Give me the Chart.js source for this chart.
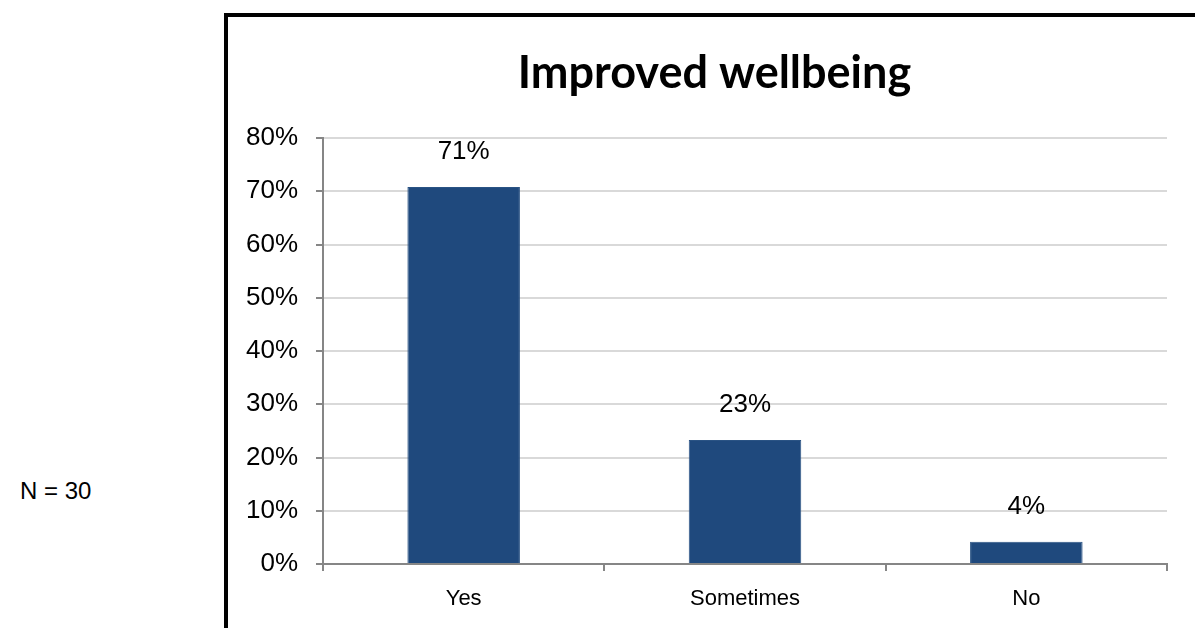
<!DOCTYPE html>
<html>
<head>
<meta charset="utf-8">
<script src="https://cdn.jsdelivr.net/npm/chart.js@4"></script>
<style>
  html, body { margin: 0; padding: 0; background: #fff; overflow: hidden; }
  #wrap { position: relative; width: 1195px; height: 628px; }
  #frame {
    position: absolute; left: 224px; top: 13px; width: 1100px; height: 700px;
    border: 4px solid #000; box-sizing: border-box;
  }
  #note {
    position: absolute; left: 20px; top: 477px;
    font: 24px "Liberation Sans", Arial, sans-serif; color: #000;
  }
  #chart { position: absolute; left: 0; top: 0; }
</style>
</head>
<body>
<div id="wrap">
  <div id="frame"></div>
  <div id="note">N = 30</div>
  <canvas id="chart" width="1195" height="628"></canvas>
</div>
<script>
const categories = ["Yes", "Sometimes", "No"];
const percentages = [70.8, 23.3, 4.2];
const yTicks = [0, 10, 20, 30, 40, 50, 60, 70, 80];
const chartTitle = "Improved wellbeing";

// percentage labels above each bar
const barLabels = {
  id: "barLabels",
  afterDatasetsDraw(chart) {
    const ctx = chart.ctx;
    const meta = chart.getDatasetMeta(0);
    ctx.save();
    ctx.font = '26px "Liberation Sans", Arial, sans-serif';
    ctx.fillStyle = "#000";
    ctx.textAlign = "center";
    ctx.textBaseline = "middle";
    meta.data.forEach((bar, i) => {
      ctx.fillText(Math.round(percentages[i]) + "%", bar.x, bar.y - 35);
    });
    ctx.restore();
  },
};

// centre the title over the framed box rather than the whole canvas
const titleShift = {
  id: "titleShift",
  afterLayout(chart) {
    if (chart.titleBlock) chart.titleBlock.left = 262;
  },
};

new Chart(document.getElementById("chart").getContext("2d"), {
  type: "bar",
  data: {
    labels: categories,
    datasets: [
      {
        data: percentages,
        backgroundColor: "#1F497D",
        borderColor: "#2A5384",
        borderWidth: 1,
        barPercentage: 0.4,
        categoryPercentage: 1,
      },
    ],
  },
  options: {
    responsive: false,
    animation: false,
    devicePixelRatio: 1,
    layout: { padding: { left: 230, right: 28, top: 0, bottom: 0 } },
    plugins: {
      legend: { display: false },
      tooltip: { enabled: false },
      title: {
        display: true,
        text: chartTitle,
        color: "#000",
        font: { family: "Lato", weight: "bold", size: 45, lineHeight: 1.2 },
        padding: { top: 46, bottom: 38 },
      },
    },
    scales: {
      y: {
        min: 0,
        max: 80,
        afterBuildTicks(scale) {
          scale.ticks = yTicks.map((v) => ({ value: v }));
        },
        afterFit(scale) {
          scale.width = 93;
        },
        ticks: {
          color: "#000",
          padding: 18,
          font: { family: "Liberation Sans", size: 26 },
          callback: (v) => v + "%",
        },
        grid: {
          color: "#D9D9D9",
          lineWidth: 2,
          tickColor: "#868686",
          tickLength: 7,
        },
        border: { color: "#868686", width: 2 },
      },
      x: {
        afterFit(scale) {
          scale.height = 64;
        },
        ticks: {
          color: "#000",
          padding: 15,
          font: { family: "Liberation Sans", size: 22 },
        },
        grid: {
          offset: true,
          drawOnChartArea: false,
          tickColor: "#868686",
          tickLength: 7,
          lineWidth: 2,
        },
        border: { color: "#868686", width: 2 },
      },
    },
  },
  plugins: [barLabels, titleShift],
});
</script>
</body>
</html>
